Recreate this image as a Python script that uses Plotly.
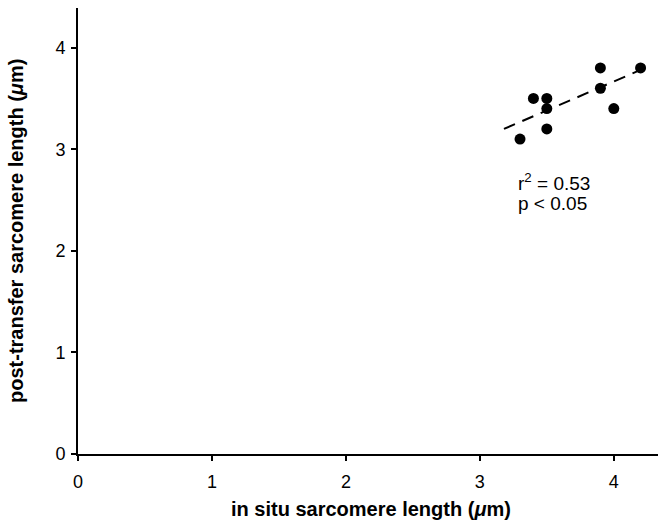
import plotly.graph_objects as go

# Data
in_situ = [3.3, 3.4, 3.5, 3.5, 3.5, 3.9, 3.9, 4.0, 4.2]
post_transfer = [3.1, 3.5, 3.5, 3.4, 3.2, 3.8, 3.6, 3.4, 3.8]
fit_x = [3.18, 4.27]
fit_y = [3.20, 3.82]
x_ticks = [0, 1, 2, 3, 4]
y_ticks = [0, 1, 2, 3, 4]

FONT = "Liberation Sans, Arial, Helvetica, sans-serif"

fig = go.Figure()
fig.add_trace(go.Scatter(x=fit_x, y=fit_y, mode="lines",
                         line=dict(color="black", width=2, dash="12px,8px"),
                         showlegend=False, hoverinfo="skip"))
fig.add_trace(go.Scatter(x=in_situ, y=post_transfer, mode="markers",
                         marker=dict(color="black", size=11),
                         showlegend=False))

fig.add_annotation(x=3.27, y=2.68, xref="x", yref="y", xanchor="left", yanchor="middle",
                   text="r<sup>2</sup> = 0.53", showarrow=False,
                   font=dict(family=FONT, size=19, color="black"))
fig.add_annotation(x=3.27, y=2.47, xref="x", yref="y", xanchor="left", yanchor="middle",
                   text="p < 0.05", showarrow=False,
                   font=dict(family=FONT, size=19, color="black"))

# Axis titles
fig.add_annotation(x=0.5, y=0, xref="paper", yref="paper", xanchor="center", yanchor="middle",
                   yshift=-55, xshift=3, showarrow=False,
                   text="<b>in situ sarcomere length (<i>μ</i>m)</b>",
                   font=dict(family=FONT, size=20, color="black"))
fig.add_annotation(x=0, y=0.5, xref="paper", yref="paper", xanchor="center", yanchor="middle",
                   xshift=-62, textangle=-90, showarrow=False,
                   text="<b>post-transfer sarcomere length (<i>μ</i>m)</b>",
                   font=dict(family=FONT, size=20, color="black"))

axis_common = dict(showgrid=False, zeroline=False, showline=True, linecolor="black",
                   linewidth=2, ticks="outside", ticklen=5, tickwidth=2, tickcolor="black",
                   automargin=False,
                   tickfont=dict(family=FONT, size=18, color="black"))

fig.update_xaxes(range=[0, 4.33], tickvals=x_ticks, ticklabelstandoff=5, **axis_common)
fig.update_yaxes(range=[0, 4.39], tickvals=y_ticks, ticklabelstandoff=2, **axis_common)

fig.update_layout(width=660, height=522, margin=dict(l=78, r=2, t=8, b=68),
                  plot_bgcolor="white", paper_bgcolor="white",
                  font=dict(family=FONT, color="black"))

fig.write_html("out.html", config={"displayModeBar": False},
               post_script="document.body.style.margin='0';")
